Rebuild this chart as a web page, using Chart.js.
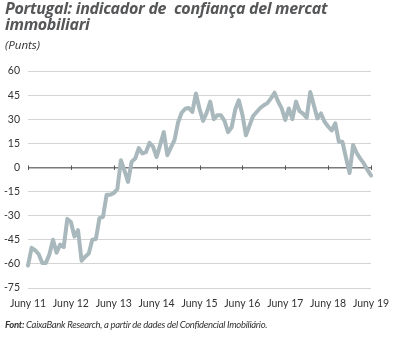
<!DOCTYPE html>
<html>
<head>
<meta charset="utf-8">
<script src="https://cdn.jsdelivr.net/npm/chart.js@4"></script>
<style>
  html, body { margin: 0; padding: 0; background: #fff; }
  #wrap { position: relative; width: 394px; height: 338px; overflow: hidden; }
  #chart { position: absolute; left: 0; top: 0; }
  .title { position: absolute; left: 5px; top: 0px; font-family: "Open Sans", sans-serif; font-weight: 700; font-style: italic;
           font-size: 16px; line-height: 16px; color: #555658; letter-spacing: -0.3px; }
  .sub { position: absolute; left: 5px; top: 37px; font-family: "Open Sans", sans-serif; font-style: italic; font-size: 11.5px; color: #333; }
  .foot { position: absolute; left: 5px; top: 319px; font-family: Lato, sans-serif; font-style: italic; font-size: 9.5px; color: #333; letter-spacing: -0.3px; }
  .foot b { font-weight: 700; }
</style>
</head>
<body>
<div id="wrap">
  <canvas id="chart" width="394" height="338"></canvas>
  <div class="title">Portugal: indicador de&nbsp; confiança del mercat<br>immobiliari</div>
  <div class="sub">(Punts)</div>
  <div class="foot"><b>Font:</b> CaixaBank Research, a partir de dades del Confidencial Imobiliário.</div>
</div>
<script>
// Monthly index, June 2011 - June 2019
const tickLabels = ['Juny 11', 'Juny 12', 'Juny 13', 'Juny 14', 'Juny 15', 'Juny 16', 'Juny 17', 'Juny 18', 'Juny 19'];
const confidence = [
    -61, -50, -51.5, -54, -59.5, -59.5, -54, -45, -53, -48, -49.5, -32,
    -34, -43, -39, -58, -55.5, -53.5, -45, -44.5, -31.5, -30.7, -17, -17,
    -16, -13.5, 4.5, -2, -9, 3.5, 5.5, 12, 8.7, 9.5, 15.3, 13,
    6.5, 14, 22, 7.6, 12.5, 17, 28, 34, 36.5, 37, 34.5, 46,
    36.5, 29, 34, 41, 30, 32.5, 32.5, 29, 22, 25, 36, 41.8,
    33, 20, 26, 32, 34.5, 37, 38.7, 40, 43, 46.5, 41, 36.7,
    29.5, 36.7, 30, 41, 35, 33.5, 31, 47, 38.7, 30.5, 33.6, 28.4,
    25.5, 23, 27.4, 16, 16, 6, -3.5, 14, 9, 5.5, 2.5, -1.5,
    -5
];
const yTicks = [60, 45, 30, 15, 0, -15, -30, -45, -60, -75];

// one category per month, June of each year carries the label
const months = [];
for (let i = 0; i < confidence.length; i++) {
    months.push(i % 12 === 0 ? tickLabels[i / 12] : '');
}

// small year marks across the zero line
const zeroTicks = {
    id: 'zeroTicks',
    afterDatasetsDraw(chart) {
        const { ctx, scales: { x, y } } = chart;
        const y0 = y.getPixelForValue(0);
        ctx.save();
        ctx.strokeStyle = '#555';
        ctx.lineWidth = 1;
        tickLabels.forEach((_, i) => {
            const px = Math.round(x.getPixelForValue(i * 12)) + 0.5;
            ctx.beginPath();
            ctx.moveTo(px, y0 - 2);
            ctx.lineTo(px, y0 + 2.5);
            ctx.stroke();
        });
        ctx.restore();
    }
};

new Chart(document.getElementById('chart'), {
    type: 'line',
    data: {
        labels: months,
        datasets: [{
            data: confidence,
            borderColor: '#a9b8bc',
            borderWidth: 4,
            pointRadius: 0,
            tension: 0,
            borderJoinStyle: 'round',
            borderCapStyle: 'round'
        }]
    },
    options: {
        responsive: false,
        animation: false,
        layout: {
            padding: { top: 71, right: 23, bottom: 20, left: 0 }
        },
        plugins: {
            legend: { display: false },
            tooltip: { enabled: false }
        },
        scales: {
            x: {
                offset: false,
                grid: { display: false },
                border: { display: false },
                afterFit: (s) => { s.height = 30; },
                ticks: {
                    autoSkip: false,
                    maxRotation: 0,
                    padding: 1,
                    color: '#333',
                    font: { family: "Lato, sans-serif", size: 10.5 },
                    callback: function(value) {
                        const l = this.getLabelForValue(value);
                        return l === '' ? null : l;
                    }
                }
            },
            y: {
                min: -75,
                max: 60,
                afterFit: (s) => { s.width = 28; },
                afterBuildTicks: (s) => { s.ticks = yTicks.map(v => ({ value: v })); },
                border: { display: false },
                grid: {
                    drawTicks: false,
                    color: (c) => c.tick && c.tick.value === 0 ? '#7a7a7a' : '#d4d4d4',
                    lineWidth: (c) => c.tick && c.tick.value === 0 ? 1.5 : 1
                },
                ticks: {
                    padding: 8,
                    color: '#333',
                    font: { family: "Lato, sans-serif", size: 10.5 }
                }
            }
        }
    },
    plugins: [zeroTicks]
});
</script>
</body>
</html>
